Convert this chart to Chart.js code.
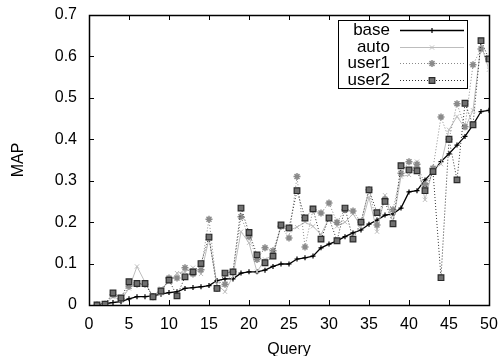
<!DOCTYPE html>
<html>
<head>
<meta charset="utf-8">
<script src="https://cdn.jsdelivr.net/npm/chart.js@4.4.1/dist/chart.umd.min.js"></script>
<style>
  html, body { margin: 0; padding: 0; background: #fff; }
</style>
</head>
<body>
<canvas id="map" width="503" height="356"></canvas>
<script>
const queries = [1, 2, 3, 4, 5, 6, 7, 8, 9, 10, 11, 12, 13, 14, 15, 16, 17, 18, 19, 20,
  21, 22, 23, 24, 25, 26, 27, 28, 29, 30, 31, 32, 33, 34, 35, 36, 37, 38, 39, 40,
  41, 42, 43, 44, 45, 46, 47, 48, 49, 50];

const base = [0, 0.003, 0.006, 0.008, 0.015, 0.02, 0.02, 0.022, 0.026, 0.03,
  0.032, 0.04, 0.042, 0.044, 0.047, 0.059, 0.063, 0.063, 0.077, 0.08,
  0.08, 0.084, 0.093, 0.099, 0.099, 0.111, 0.114, 0.118, 0.138, 0.147,
  0.155, 0.165, 0.174, 0.181, 0.195, 0.205, 0.217, 0.22, 0.234, 0.273,
  0.276, 0.302, 0.322, 0.346, 0.365, 0.386, 0.407, 0.435, 0.467, 0.47];

const auto = [0, 0.002, 0.02, 0.012, 0.04, 0.093, 0.055, 0.02, 0.04, 0.055,
  0.077, 0.08, 0.09, 0.075, 0.16, 0.05, 0.032, 0.07, 0.177, 0.15,
  0.08, 0.11, 0.12, 0.19, 0.18, 0.188, 0.2, 0.19, 0.17, 0.21,
  0.19, 0.2, 0.22, 0.19, 0.26, 0.177, 0.265, 0.2, 0.31, 0.314,
  0.346, 0.254, 0.33, 0.34, 0.423, 0.455, 0.427, 0.47, 0.628, 0.568];

const user1 = [0, 0.002, 0.025, 0.015, 0.045, 0.05, 0.05, 0.02, 0.03, 0.065,
  0.065, 0.09, 0.075, 0.085, 0.207, 0.04, 0.05, 0.08, 0.213, 0.165,
  0.11, 0.138, 0.131, 0.19, 0.162, 0.31, 0.14, 0.23, 0.222, 0.246,
  0.2, 0.23, 0.227, 0.2, 0.278, 0.193, 0.255, 0.23, 0.318, 0.346,
  0.34, 0.29, 0.33, 0.454, 0.4, 0.486, 0.43, 0.58, 0.618, 0.594];

const user2 = [0, 0.002, 0.029, 0.017, 0.056, 0.052, 0.052, 0.02, 0.034, 0.06,
  0.022, 0.068, 0.08, 0.1, 0.164, 0.04, 0.077, 0.08, 0.234, 0.175,
  0.121, 0.102, 0.118, 0.193, 0.186, 0.276, 0.21, 0.232, 0.159, 0.21,
  0.155, 0.234, 0.159, 0.2, 0.278, 0.223, 0.25, 0.196, 0.336, 0.326,
  0.324, 0.276, 0.322, 0.066, 0.4, 0.302, 0.487, 0.435, 0.638, 0.594];

const xTicks = [0, 5, 10, 15, 20, 25, 30, 35, 40, 45, 50];
const yTicks = [0, 0.1, 0.2, 0.3, 0.4, 0.5, 0.6, 0.7];

const toPoints = (vals) => vals.map((v, i) => ({ x: queries[i], y: v }));
const font = { family: '"Liberation Sans", Arial, sans-serif', size: 16 };

// gnuplot style border with inward ticks on all four sides
const frame = {
  id: 'frame',
  beforeDatasetsDraw(chart) {
    const { ctx, chartArea: a, scales: { x, y } } = chart;
    ctx.save();
    ctx.strokeStyle = '#000';
    ctx.lineWidth = 1;
    ctx.beginPath();
    xTicks.forEach((v) => {
      const px = Math.round(x.getPixelForValue(v)) + 0.5;
      ctx.moveTo(px, a.bottom); ctx.lineTo(px, a.bottom - 5);
      ctx.moveTo(px, a.top); ctx.lineTo(px, a.top + 5);
    });
    yTicks.forEach((v) => {
      const py = Math.round(y.getPixelForValue(v)) + 0.5;
      ctx.moveTo(a.left, py); ctx.lineTo(a.left + 5, py);
      ctx.moveTo(a.right, py); ctx.lineTo(a.right - 5, py);
    });
    ctx.stroke();
    ctx.lineWidth = 1.5;
    ctx.strokeRect(Math.round(a.left) + 0.5, Math.round(a.top) + 0.5,
      Math.round(a.right - a.left), Math.round(a.bottom - a.top));
    ctx.restore();
  },
};

// key box in the top right, text right-aligned before the line sample
const key = {
  id: 'key',
  afterDraw(chart) {
    const { ctx } = chart;
    const box = { left: 338, top: 20, right: 467, bottom: 88 };
    ctx.save();
    ctx.strokeStyle = '#000';
    ctx.lineWidth = 1;
    ctx.strokeRect(box.left + 0.5, box.top + 0.5, box.right - box.left, box.bottom - box.top);
    ctx.font = '17px "Liberation Sans", Arial, sans-serif';
    ctx.textAlign = 'right';
    ctx.textBaseline = 'middle';
    chart.data.datasets.forEach((ds, i) => {
      const cy = Math.round(30 + i * 16.7) + 0.5;
      ctx.fillStyle = '#000';
      ctx.fillText(ds.label, 390, cy);
      ctx.save();
      ctx.strokeStyle = ds.borderColor;
      ctx.lineWidth = ds.borderWidth;
      ctx.setLineDash(ds.borderDash || []);
      ctx.beginPath();
      ctx.moveTo(400, cy);
      ctx.lineTo(464, cy);
      ctx.stroke();
      ctx.restore();
      ctx.save();
      ctx.strokeStyle = ds.pointBorderColor;
      ctx.fillStyle = ds.pointBackgroundColor;
      ctx.lineWidth = ds.pointBorderWidth;
      Chart.helpers.drawPoint(ctx, {
        pointStyle: ds.pointStyle, radius: ds.pointRadius, rotation: 0, borderWidth: ds.pointBorderWidth,
      }, 432, cy);
      ctx.restore();
    });
    ctx.restore();
  },
};

new Chart(document.getElementById('map'), {
  type: 'line',
  data: {
    datasets: [
      {
        label: 'base',
        data: toPoints(base),
        borderColor: '#000',
        borderWidth: 1.3,
        pointStyle: 'cross',
        pointRadius: 2.5,
        pointBorderColor: '#000',
        pointBackgroundColor: '#000',
        pointBorderWidth: 1.2,
        order: 4,
      },
      {
        label: 'auto',
        data: toPoints(auto),
        borderColor: '#bdbdbd',
        borderWidth: 1,
        pointStyle: 'crossRot',
        pointRadius: 3,
        pointBorderColor: '#bdbdbd',
        pointBackgroundColor: '#bdbdbd',
        pointBorderWidth: 1,
        order: 3,
      },
      {
        label: 'user1',
        data: toPoints(user1),
        borderColor: '#8a8a8a',
        borderWidth: 1,
        borderDash: [1, 2],
        pointStyle: 'star',
        pointRadius: 3.5,
        pointBorderColor: '#8a8a8a',
        pointBackgroundColor: '#8a8a8a',
        pointBorderWidth: 1.5,
        order: 2,
      },
      {
        label: 'user2',
        data: toPoints(user2),
        borderColor: '#333',
        borderWidth: 1,
        borderDash: [1, 2],
        pointStyle: 'rect',
        pointRadius: 4,
        pointBorderColor: '#2a2a2a',
        pointBackgroundColor: '#707070',
        pointBorderWidth: 1.2,
        order: 1,
      },
    ],
  },
  options: {
    responsive: false,
    animation: false,
    layout: { padding: { top: 15, right: 14, left: 0, bottom: 0 } },
    scales: {
      x: {
        type: 'linear',
        min: 0,
        max: 50,
        afterFit: (s) => { s.height = 51; },
        afterBuildTicks: (s) => { s.ticks = xTicks.map((v) => ({ value: v })); },
        grid: { display: false },
        border: { display: false },
        ticks: { color: '#000', font, padding: 2, maxRotation: 0 },
        title: { display: true, text: 'Query', color: '#000', font, padding: { top: 0, bottom: -3 } },
      },
      y: {
        min: 0,
        max: 0.7,
        afterFit: (s) => { s.width = 89; },
        afterBuildTicks: (s) => { s.ticks = yTicks.map((v) => ({ value: v })); },
        grid: { display: false },
        border: { display: false },
        ticks: { color: '#000', font, padding: 4 },
        title: { display: true, text: 'MAP', color: '#000', font, padding: { top: 9, bottom: 0 } },
      },
    },
    plugins: {
      legend: { display: false },
      tooltip: { enabled: false },
    },
  },
  plugins: [frame, key],
});
</script>
</body>
</html>
